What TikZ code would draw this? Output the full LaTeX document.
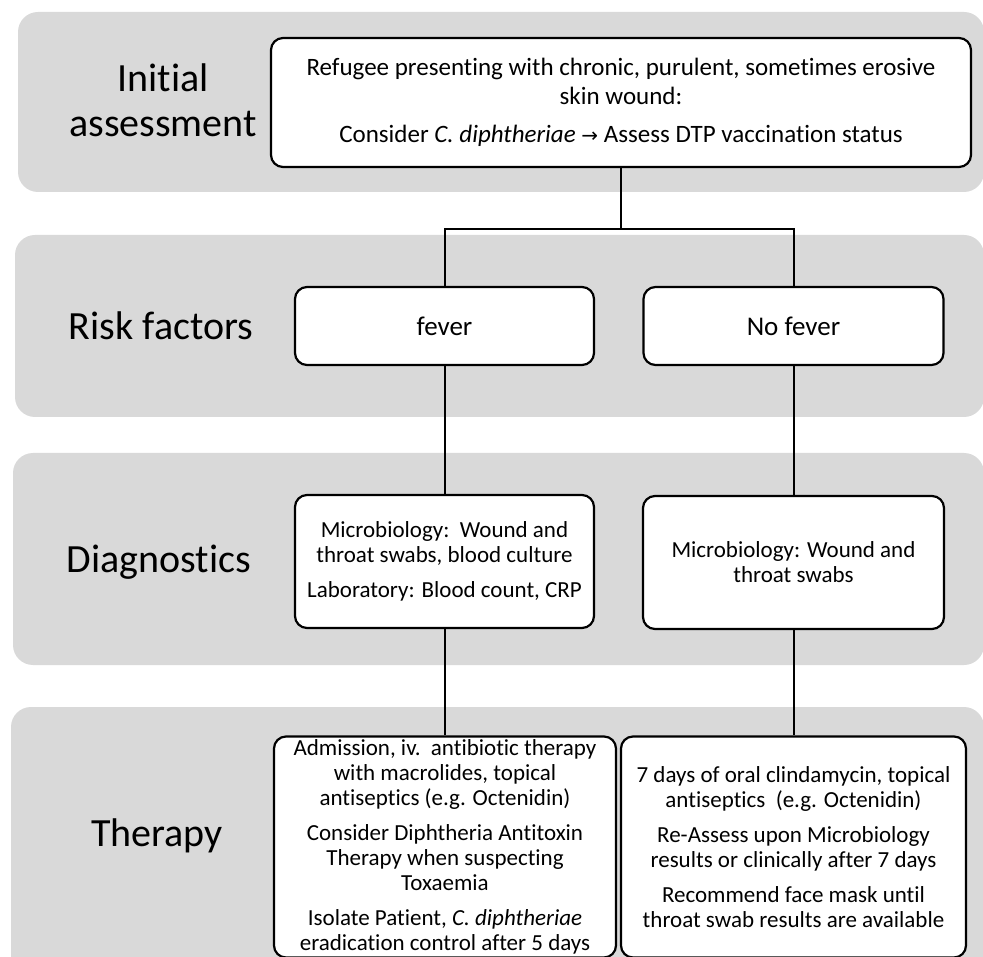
\documentclass[tikz,border=0pt]{standalone}
\usepackage{fontspec}
\setmainfont{Carlito}[Ligatures={NoCommon,NoContextual}]
\newfontfamily\arrowfont{DejaVu Sans}
\usepackage{tikz}

\begin{document}
\begin{tikzpicture}[x=1pt,y=-1pt,
	band/.style={fill=black!15,rounded corners=20pt},
	stage/.style={font=\fontsize{40}{45}\selectfont,align=center,inner sep=0pt},
	box/.style={draw,fill=white,line width=2.2pt,rounded corners=12pt,align=center,inner sep=2pt},
	link/.style={line width=2pt}]
	\useasboundingbox (0,0) rectangle (983,957);
	\clip (0,0) rectangle (983,957);

	% Bands
	\fill[band] (18,12) rectangle (984,192);
	\fill[band] (15,235) rectangle (984,417);
	\fill[band] (13,453) rectangle (984,665);
	\fill[band] (11,707) rectangle (984,1000);

	% Stage labels
	\node[stage] (Lassess) at (163,100) {Initial\\assessment};
	\node[stage] (Lrisk) at (161,326) {Risk factors};
	\node[stage] (Ldiag) at (159,562) {Diagnostics};
	\node[stage] (Ltherapy) at (157,836) {Therapy};

	% Nodes
	\node[box,minimum width=700pt,minimum height=129pt,font=\fontsize{25}{29}\selectfont] (assess) at (621,102.5)
		{Refugee presenting with chronic, purulent, sometimes erosive\\skin wound:\\[9pt]
		Consider \textit{C. diphtheriae} {\arrowfont\fontsize{20}{29}\selectfont →} Assess DTP vaccination status};
	\node[box,minimum width=299pt,minimum height=78pt,font=\fontsize{27}{31}\selectfont] (fever) at (444.5,326) {fever};
	\node[box,minimum width=300pt,minimum height=78pt,font=\fontsize{27}{31}\selectfont] (nofever) at (793.5,326) {No fever};
	\node[box,minimum width=299pt,minimum height=133pt,font=\fontsize{23}{25}\selectfont] (diagA) at (444.5,561.5)
		{Microbiology:~~Wound and\\throat swabs, blood culture\\[10pt]Laboratory: Blood count, CRP};
	\node[box,minimum width=301pt,minimum height=133pt,font=\fontsize{23}{25}\selectfont] (diagB) at (793.5,562.5)
		{Microbiology: Wound and\\throat swabs};
	\node[box,minimum width=342pt,minimum height=221pt,font=\fontsize{23}{25}\selectfont] (therA) at (445,847)
		{Admission, iv.~~antibiotic therapy\\with macrolides, topical\\antiseptics (e.g. Octenidin)\\[10pt]
		Consider Diphtheria Antitoxin\\Therapy when suspecting\\Toxaemia\\[10pt]
		Isolate Patient, \textit{C. diphtheriae}\\eradication control after 5 days};
	\node[box,minimum width=345pt,minimum height=221pt,font=\fontsize{23}{25}\selectfont] (therB) at (793.5,847)
		{7 days of oral clindamycin, topical\\antiseptics~~(e.g. Octenidin)\\[10pt]
		Re-Assess upon Microbiology\\results or clinically after 7 days\\[10pt]
		Recommend face mask until\\throat swab results are available};

	% Lines
	\draw[link] (assess.south) -- ++(0,61) -| (fever.north);
	\draw[link] (assess.south) -- ++(0,61) -| (nofever.north);
	\draw[link] (fever.south) -- (fever.south |- diagA.north);
	\draw[link] (nofever.south) -- (nofever.south |- diagB.north);
	\draw[link] (diagA.south) -- (diagA.south |- therA.north);
	\draw[link] (diagB.south) -- (diagB.south |- therB.north);
\end{tikzpicture}
\end{document}
